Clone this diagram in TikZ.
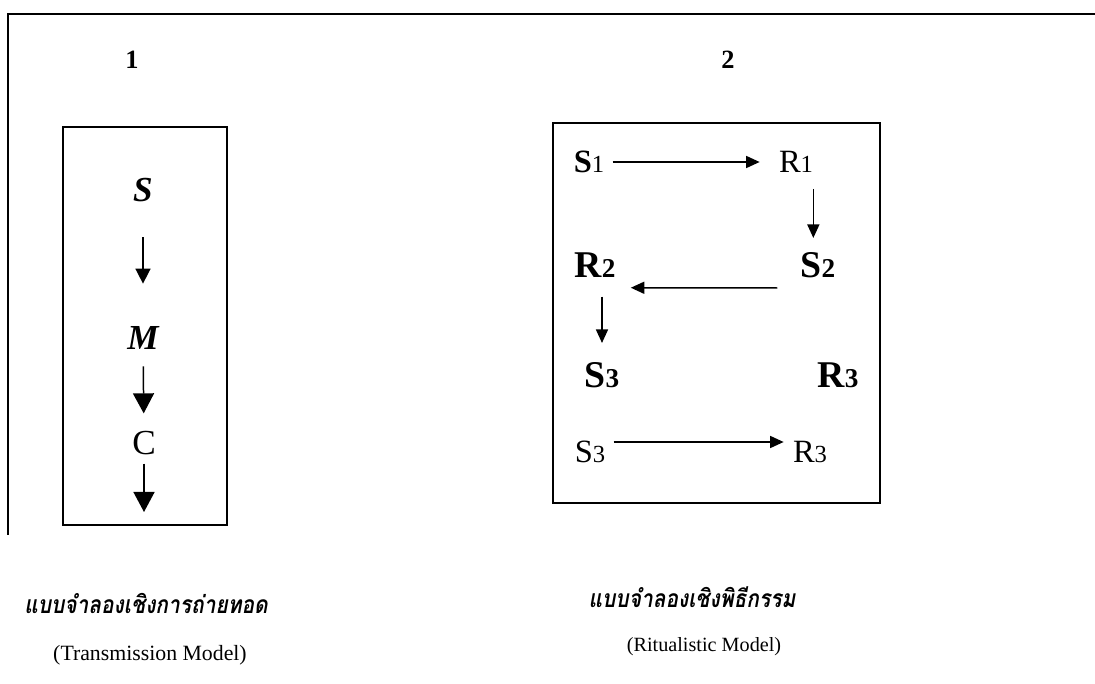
\documentclass[tikz,border=0pt]{standalone}
\usepackage{fontspec}
\setmainfont{Liberation Serif}
\newfontfamily\thaifont[Script=Thai,FakeStretch=0.85,BoldItalicFont={Loma Bold Oblique}]{Loma}
\usepackage{tikz}
\usetikzlibrary{arrows.meta}
\newcommand{\subnum}[1]{{\fontsize{14}{14}\selectfont #1}}
\newcommand{\bigsubnum}[1]{{\fontsize{15.5}{15.5}\selectfont #1}}

\begin{document}
\begin{tikzpicture}[
    letter/.style={inner sep=0pt, font=\fontsize{18.5}{20}\selectfont},
    bigletter/.style={inner sep=0pt, font=\fontsize{21.5}{24}\selectfont\bfseries},
    arr/.style={line width=0.85pt, -{Triangle[length=0.27cm,width=0.24cm]}},
    bigarr/.style={line width=0.85pt, -{Triangle[length=0.4cm,width=0.42cm]}},
    frame/.style={line width=1.1pt}
  ]
    \useasboundingbox (0,0) rectangle (21.9,13.68);
    \draw[line width=0.8pt] (21.9,13.4) -- (0.16,13.4) -- (0.16,2.98);

    % model 1
    \node[font=\fontsize{15}{18}\selectfont\bfseries] (one) at (2.64,12.48) {1};
    \draw[frame] (1.26,3.18) rectangle (4.54,11.14);
    \node[inner sep=0pt, font=\fontsize{20}{24}\selectfont\bfseries\itshape] (S) at (2.86,9.88) {S};
    \node[inner sep=0pt, font=\fontsize{20}{24}\selectfont\bfseries\itshape] (M) at (2.86,6.92) {M};
    \node[inner sep=0pt, font=\fontsize{20}{24}\selectfont] (C) at (2.88,4.82) {C};
    \coordinate (Cend) at (2.88,3.44);

    \path[line width=0.85pt, -{Triangle[length=0.3cm,width=0.3cm]}, shorten <=0.70cm, shorten >=0.85cm] (S) edge (M);
    \path[bigarr, shorten <=0.33cm, shorten >=0.35cm] (M) edge (C);
    \path[bigarr, shorten <=0.17cm] (C) edge (Cend);

    \node[font=\thaifont\fontsize{14}{16}\selectfont\bfseries\itshape] (thaione) at (2.92,1.62) {แบบจำลองเชิงการถ่ายทอด};
    \node[font=\fontsize{12.4}{14}\selectfont] (trans) at (3.00,0.58) {(Transmission Model)};

    % model 2
    \node[font=\fontsize{15}{18}\selectfont\bfseries] (two) at (14.56,12.48) {2};
    \draw[frame] (11.06,3.62) rectangle (17.60,11.22);
    \node[letter] (S1) at (11.78,10.44) {\textbf{S}\subnum{1}};
    \node[letter] (R1) at (15.92,10.44) {R\subnum{1}};
    \node[bigletter] (S2) at (16.36,8.38) {S\bigsubnum{2}};
    \node[bigletter] (R2) at (11.90,8.38) {R\bigsubnum{2}};
    \node[bigletter] (S3b) at (12.04,6.18) {S\bigsubnum{3}};
    \node[bigletter] (R3b) at (16.76,6.18) {R\bigsubnum{3}};
    \node[letter] (S3) at (11.80,4.64) {S\subnum{3}};
    \node[letter] (R3) at (16.20,4.64) {R\subnum{3}};

    \path[arr, shorten <=0.16cm, shorten >=0.38cm] (S1) edge (R1);
    \path[arr, shorten <=0.32cm, shorten >=0.28cm] (R1.south east) edge (R1.south east |- S2.north);
    \path[arr, shorten <=0.46cm, shorten >=0.30cm] ([yshift=-0.2cm]S2.south west) edge ([yshift=-0.2cm]R2.south east);
    \path[arr, shorten <=0.38cm, shorten >=0.38cm] (S3b.north |- R2.south) edge (S3b.north);
    \path[arr, shorten <=0.16cm, shorten >=0.18cm] ([yshift=0.2cm]S3.east) edge ([yshift=0.2cm]R3.west);

    \node[font=\thaifont\fontsize{14}{16}\selectfont\bfseries\itshape] (thaitwo) at (13.84,1.74) {แบบจำลองเชิงพิธีกรรม};
    \node[font=\fontsize{11.5}{14}\selectfont] (ritual) at (14.08,0.74) {(Ritualistic Model)};
\end{tikzpicture}
\end{document}
